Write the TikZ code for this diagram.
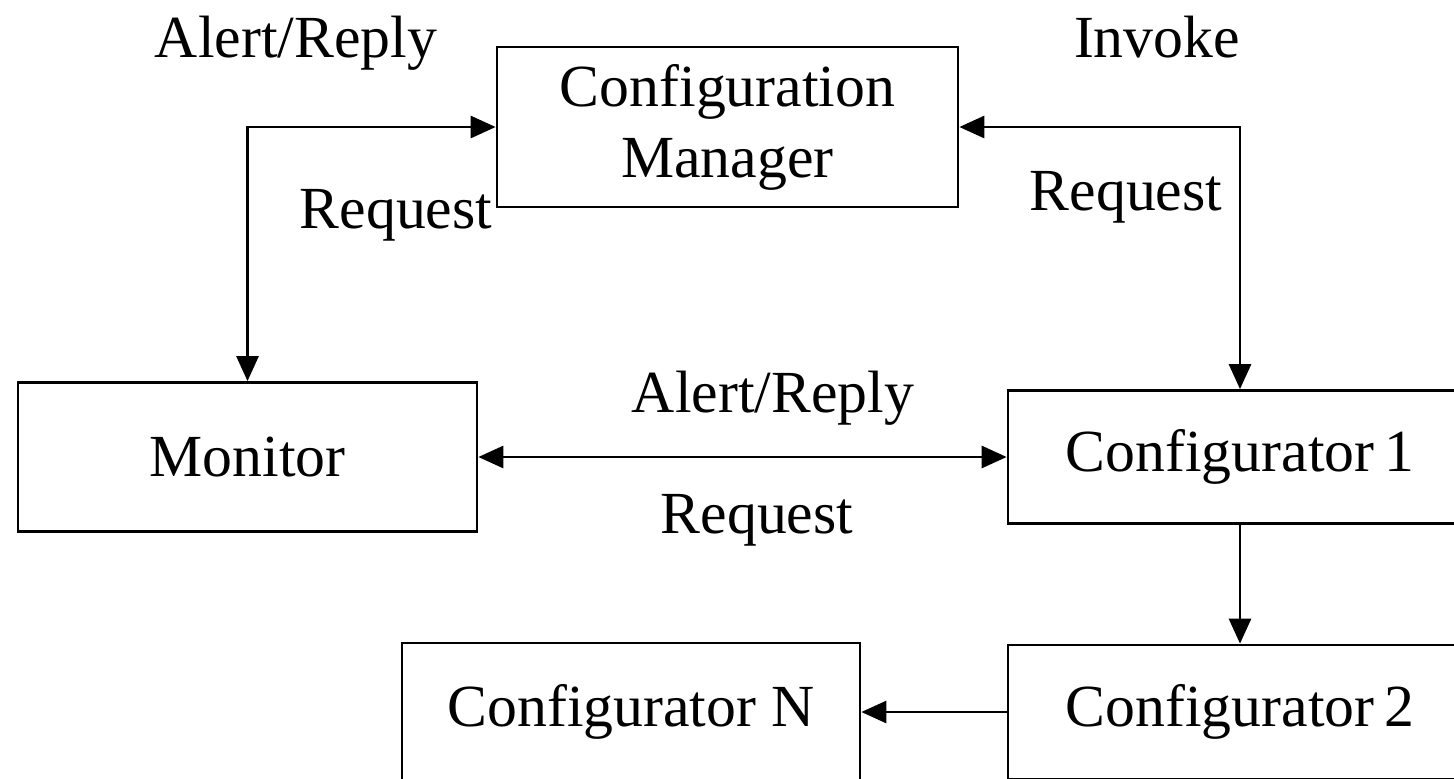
\documentclass[tikz,border=0pt]{standalone}
\usepackage{fontspec}
\setmainfont{Liberation Serif}
\usetikzlibrary{positioning, arrows.meta}

\begin{document}
\begin{tikzpicture}[x=0.02cm, y=-0.02cm, >={Triangle[length=0.5cm, width=0.44cm]}, line width=1.6pt,
    font=\fontsize{34}{40.4}\selectfont,
    box/.style={draw, align=center, inner sep=0pt},
    lbl/.style={inner sep=0pt, anchor=base}]

\clip (0,0) rectangle (1454,778);

% Boxes
\node[box, minimum width=9.22cm, minimum height=3.2cm] (cm) at (727.5,127) {Configuration\\Manager};
\node[box, minimum width=9.18cm, minimum height=2.98cm] (mon) at (247.5,457) {Monitor};
\node[box, minimum width=9.28cm, minimum height=2.66cm] (c1) at (1240,457) {Configurator\,1};
\node[box, minimum width=9.28cm, minimum height=2.68cm] (c2) at (1240,712) {Configurator\,2};
\node[box, minimum width=9.16cm, minimum height=2.76cm] (cn) at (631,712) {Configurator N};

% Labels
\node[lbl] (arTop) at (296,57) {Alert/Reply};
\node[lbl] (rqLeft) at (396,228) {Request};
\node[lbl] (inv) at (1157,57) {Invoke};
\node[lbl] (rqRight) at (1126,210) {Request};
\node[lbl] (arMid) at (773,412) {Alert/Reply};
\node[lbl] (rqMid) at (757,533) {Request};

% Connections
\draw[<->] (mon.north) |- (cm.west);
\draw[<->] (cm.east) -| (c1.north);
\draw[<->] (mon.east) -- (c1.west);
\draw[->] (c1) -- (c2);
\draw[->] (c2) -- (cn);

\end{tikzpicture}
\end{document}
